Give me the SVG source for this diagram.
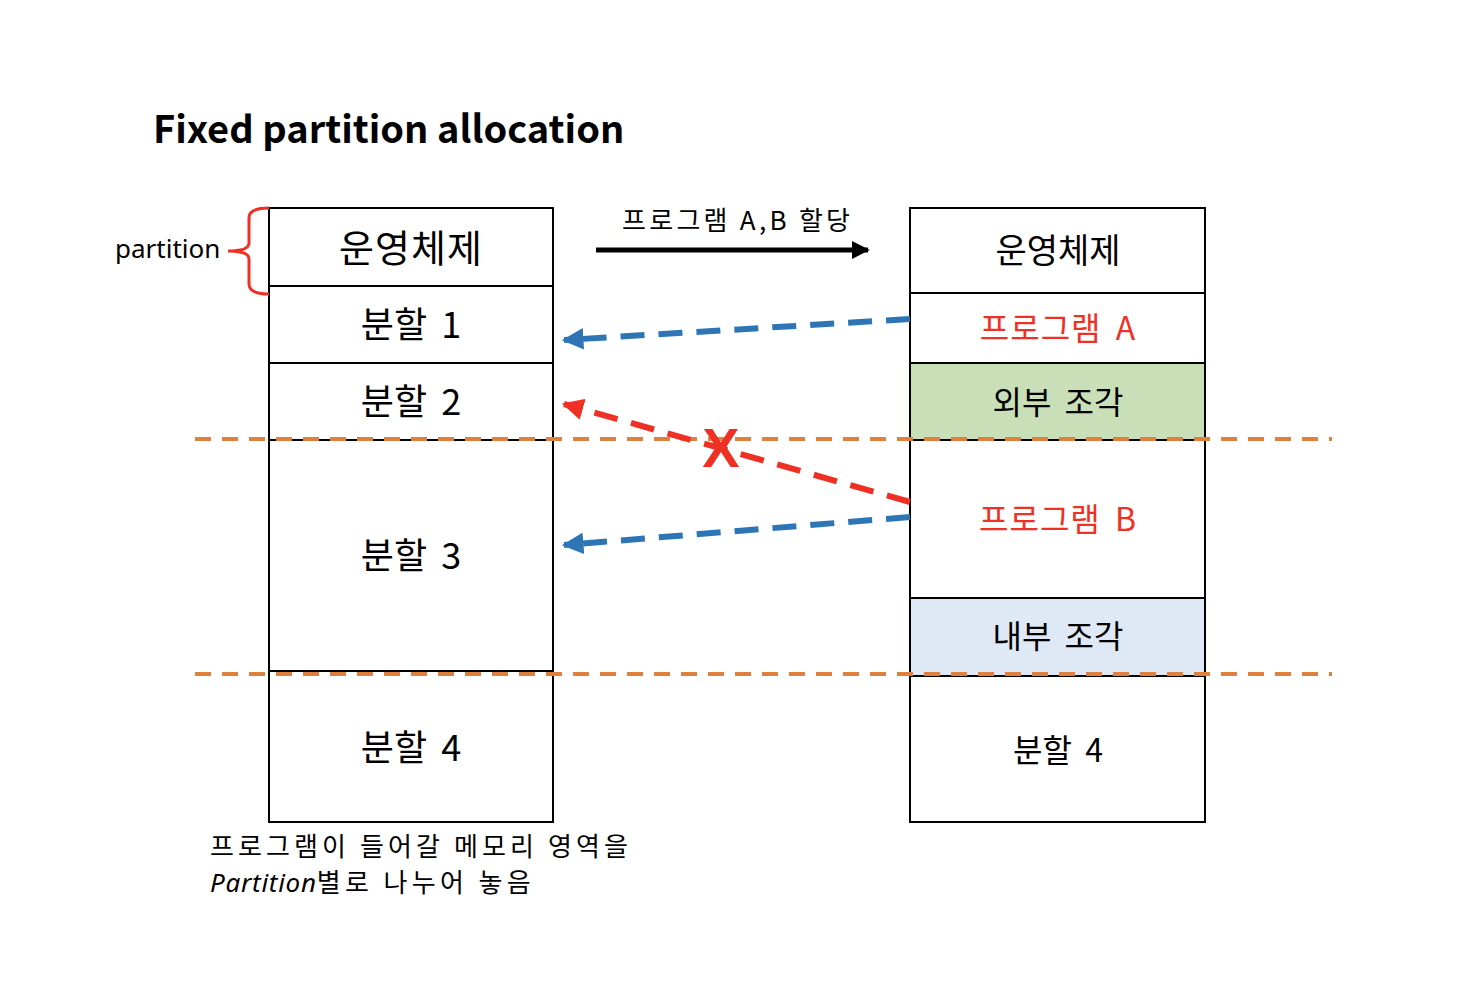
<svg xmlns="http://www.w3.org/2000/svg" width="1478" height="1000" viewBox="0 0 1478 1000">
<defs>
<style>
.box{fill:#fff;stroke:#000;stroke-width:2}
.t{font-family:"Noto Sans CJK KR","Noto Sans",sans-serif;text-anchor:middle;fill:#000;word-spacing:6px}
.red{fill:#EE3124}
.orange{stroke:#E0803F;stroke-width:4;stroke-dasharray:16,11;fill:none}
.blue{stroke:#2E75B6;stroke-width:6;stroke-dasharray:24,14;fill:none}
.redl{stroke:#EE3124;stroke-width:6;stroke-dasharray:24,14;fill:none}
</style>
<marker id="mb" viewBox="0 0 10 10" refX="9" refY="5" markerWidth="3.6" markerHeight="3.6" orient="auto" markerUnits="strokeWidth"><path d="M0,0L10,5L0,10z" fill="#2E75B6"/></marker>
<marker id="mr" viewBox="0 0 10 10" refX="9" refY="5" markerWidth="3.6" markerHeight="3.6" orient="auto" markerUnits="strokeWidth"><path d="M0,0L10,5L0,10z" fill="#EE3124"/></marker>
<marker id="mk" viewBox="0 0 10 10" refX="9" refY="5" markerWidth="3.6" markerHeight="3.6" orient="auto" markerUnits="strokeWidth"><path d="M0,0L10,5L0,10z" fill="#000"/></marker>
</defs>
<rect width="1478" height="1000" fill="#fff"/>
<text x="153" y="143" font-family="Noto Sans CJK KR,Noto Sans,sans-serif" font-weight="bold" font-size="38">Fixed partition allocation</text>

<g id="left-col">
<g id="l-os"><rect class="box" x="269" y="208" width="284" height="78"/><text class="t" x="411" y="262" font-size="38" letter-spacing="1">운영체제</text></g>
<g id="l-p1"><rect class="box" x="269" y="286" width="284" height="77"/><text class="t" x="411" y="338" font-size="36">분할 1</text></g>
<g id="l-p2"><rect class="box" x="269" y="363" width="284" height="77"/><text class="t" x="411" y="415" font-size="36">분할 2</text></g>
<g id="l-p3"><rect class="box" x="269" y="440" width="284" height="231"/><text class="t" x="411" y="569" font-size="36">분할 3</text></g>
<g id="l-p4"><rect class="box" x="269" y="671" width="284" height="151"/><text class="t" x="411" y="761" font-size="36">분할 4</text></g>
</g>

<g id="right-col">
<g id="r-os"><rect class="box" x="910" y="208" width="295" height="85"/><text class="t" x="1058" y="263" font-size="34">운영체제</text></g>
<g id="r-a"><rect class="box" x="910" y="293" width="295" height="70"/><text class="t red" x="1058" y="340" font-size="32" letter-spacing="1">프로그램 A</text></g>
<g id="r-ext"><rect class="box" x="910" y="363" width="295" height="77" style="fill:#C9DFB8"/><text class="t" x="1058" y="414" font-size="32">외부 조각</text></g>
<g id="r-b"><rect class="box" x="910" y="440" width="295" height="158"/><text class="t red" x="1058" y="531" font-size="32" letter-spacing="1">프로그램 B</text></g>
<g id="r-int"><rect class="box" x="910" y="598" width="295" height="78" style="fill:#DEE9F5"/><text class="t" x="1058" y="648" font-size="32">내부 조각</text></g>
<g id="r-p4"><rect class="box" x="910" y="676" width="295" height="146"/><text class="t" x="1058" y="762" font-size="32">분할 4</text></g>
</g>

<g id="brace">
<path d="M269,208 Q249,208 249,218 L249,243 Q249,251 228,251 Q249,251 249,259 L249,284 Q249,294 269,294" fill="none" stroke="#EE3124" stroke-width="3"/>
<text x="115" y="258" font-family="Noto Sans,sans-serif" font-size="26">partition</text>
</g>

<g id="connectors">
<line class="orange" x1="195" y1="439" x2="1332" y2="439"/>
<line class="orange" x1="195" y1="674" x2="1332" y2="674"/>
<line x1="596" y1="250" x2="868" y2="250" stroke="#000" stroke-width="5" marker-end="url(#mk)"/>
<line class="blue" x1="910" y1="319" x2="564" y2="340" marker-end="url(#mb)"/>
<line class="blue" x1="910" y1="517" x2="564" y2="545" marker-end="url(#mb)"/>
<line class="redl" x1="910" y1="502" x2="564" y2="404" marker-end="url(#mr)"/>
</g>
<text x="721" y="467" font-family="Liberation Sans,sans-serif" font-weight="bold" font-size="56" text-anchor="middle" fill="#EE3124">X</text>
<text x="622" y="230" font-family="Noto Sans CJK KR,Noto Sans,sans-serif" font-size="26" textLength="228" lengthAdjust="spacing">프로그램 A,B 할당</text>

<text x="210" y="856" font-family="Noto Sans CJK KR,sans-serif" font-size="26" textLength="418" lengthAdjust="spacing">프로그램이 들어갈 메모리 영역을</text>
<text x="210" y="892" font-family="Noto Sans CJK KR,sans-serif" font-size="26"><tspan font-style="italic" font-family="Noto Sans,sans-serif" textLength="106" lengthAdjust="spacing">Partition</tspan><tspan textLength="214" lengthAdjust="spacing">별로 나누어 놓음</tspan></text>
</svg>
